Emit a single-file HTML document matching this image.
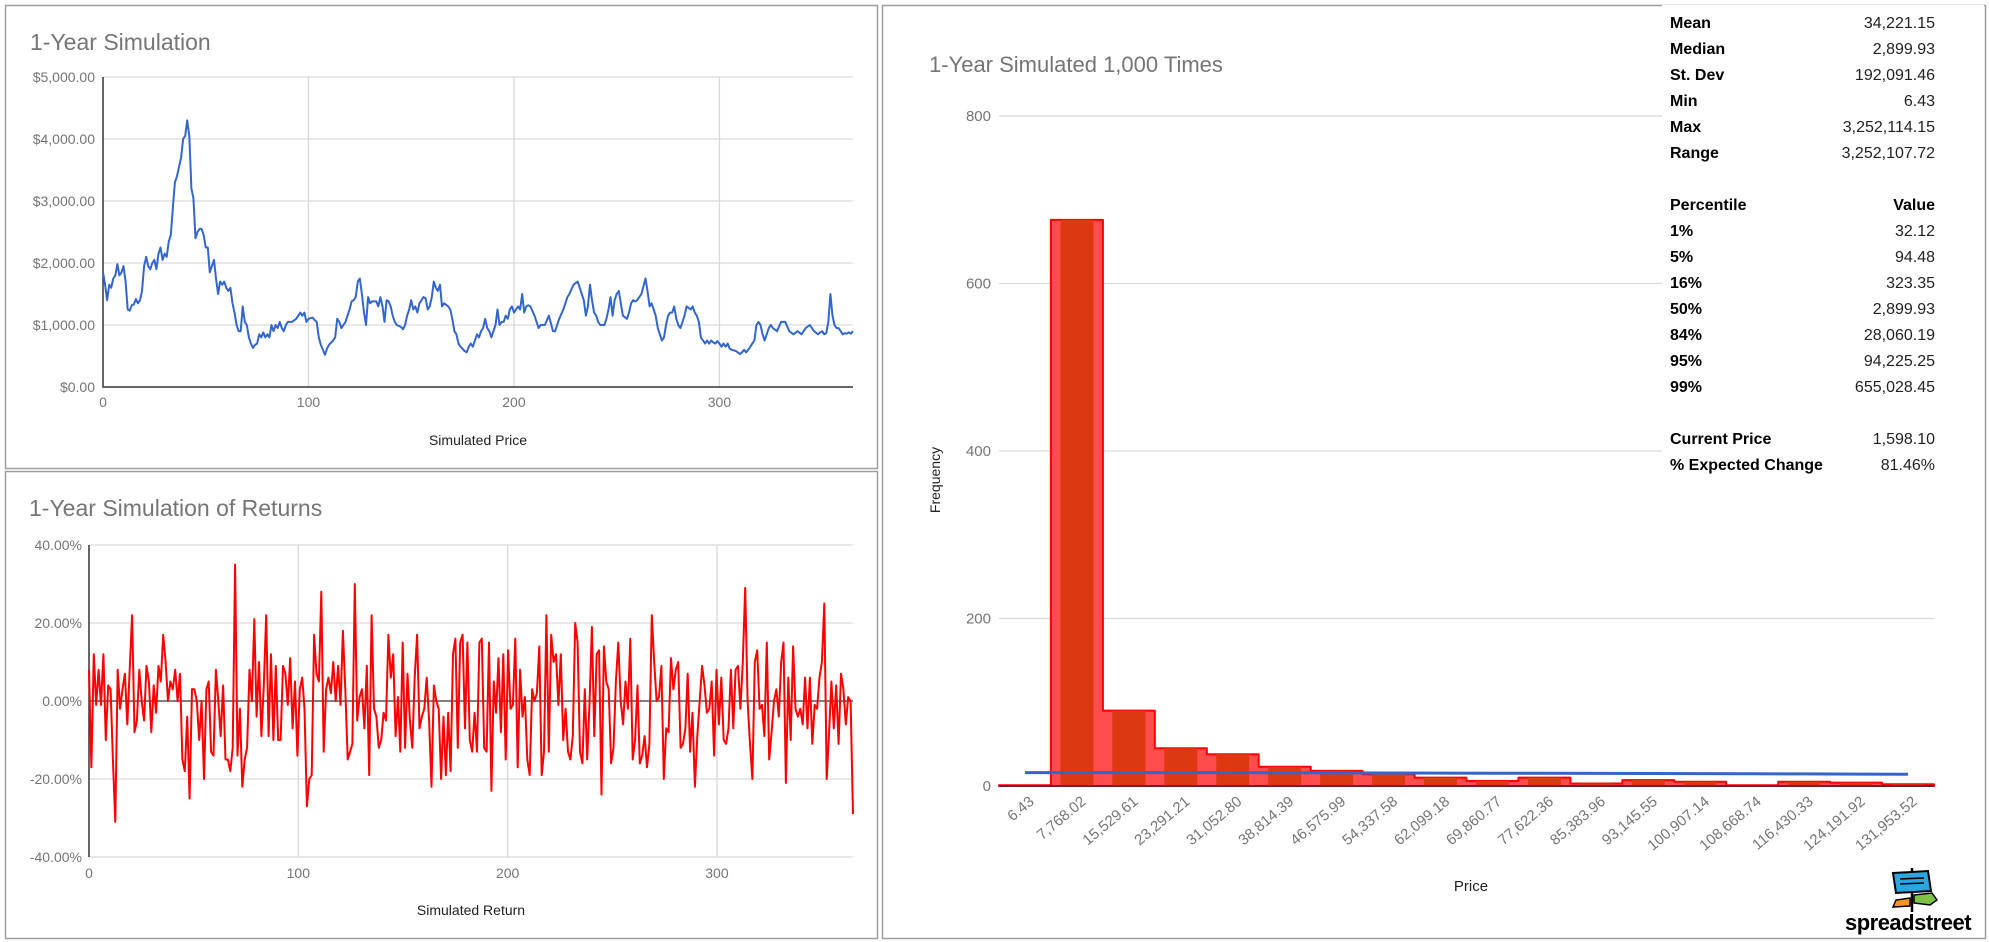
<!DOCTYPE html>
<html><head><meta charset="utf-8"><style>
html,body{margin:0;padding:0;background:#fff;}
body{width:1989px;height:942px;overflow:hidden;position:relative;font-family:"Liberation Sans",sans-serif;}
svg{position:absolute;left:0;top:0;}
#stats{position:absolute;left:1662px;top:5px;width:322px;height:478px;background:#fff;font-size:16px;}
.row{position:absolute;left:8px;width:265px;height:20px;}
.row .l{position:absolute;left:0;font-weight:bold;color:#000;}
.row .v{position:absolute;right:0;color:#222;}
</style></head><body>
<svg id="svg" width="1989" height="942" font-family="Liberation Sans, sans-serif"></svg>
<div id="stats"></div>
<script>
// ---------- data ----------
const priceDays=[0,1,2,3,4,5,6,7,8,9,10,11,12,13,14,15,16,17,18,19,20,21,22,23,24,25,26,27,28,29,30,31,32,33,34,35,36,37,38,39,40,41,42,43,44,45,46,47,48,49,50,51,52,53,54,55,56,57,58,59,60,61,62,63,64,65,66,67,68,69,70,71,72,73,74,75,76,77,78,79,80,81,82,83,84,85,86,87,88,89,90,92,94,96,97,98,99,100,102,103,104,105,106,107,108,109,110,112,113,114,115,116,117,118,119,120,121,122,123,124,125,126,127,128,129,130,131,133,134,135,136,137,138,139,140,141,142,143,145,146,147,148,149,150,151,152,153,154,155,156,157,158,159,160,161,162,163,164,165,166,168,169,170,171,172,173,174,176,177,178,179,180,181,182,183,184,185,186,187,188,189,190,191,192,193,194,195,196,197,198,199,200,201,202,203,204,205,206,207,208,210,212,213,215,217,219,220,222,224,226,227,229,231,233,234,235,236,237,238,239,240,241,242,244,245,246,247,248,249,250,251,252,253,255,256,257,258,259,260,261,262,264,265,266,267,268,269,270,271,272,273,274,275,276,277,278,279,280,281,282,283,284,286,287,288,289,290,291,292,293,294,295,296,297,298,299,300,301,302,303,304,305,306,308,310,311,312,313,314,315,316,317,318,319,320,321,322,323,324,325,326,328,330,332,334,336,338,340,342,344,346,348,349,350,351,352,353,354,355,356,357,358,359,360,361,362,363,364,365];
const prices=[1850,1650,1400,1650,1600,1750,1800,1980,1800,1850,1950,1700,1250,1230,1320,1330,1420,1350,1400,1550,1950,2100,1950,1900,2000,2050,1900,2150,2250,2050,2150,2100,2350,2450,2900,3300,3400,3550,3700,4000,4050,4300,4050,3200,3050,2400,2500,2550,2550,2450,2250,2250,1850,1950,2050,1750,1500,1700,1650,1700,1600,1550,1600,1350,1200,1000,900,900,1300,1050,1000,800,700,630,680,700,850,800,880,800,850,800,1000,900,1000,950,1050,950,900,1000,1050,1050,1100,1200,1150,1200,1050,1100,1120,1080,1050,800,680,600,520,620,680,750,800,1100,1050,950,1000,1050,1150,1250,1380,1400,1450,1700,1750,1500,1200,1000,1450,1350,1380,1380,1300,1450,1300,1050,1400,1380,1300,1150,1050,1000,970,930,1000,1150,1250,1400,1250,1300,1200,1350,1400,1450,1430,1250,1300,1450,1700,1600,1550,1650,1300,1350,1300,1250,1100,900,850,700,650,580,560,650,700,650,750,850,800,900,950,1100,950,900,800,900,1000,1250,1000,1050,1050,1150,1100,1250,1300,1200,1250,1300,1250,1500,1200,1300,1320,1300,1150,950,1000,1000,1150,900,900,1100,1250,1450,1500,1650,1700,1500,1400,1150,1300,1650,1400,1200,1150,1050,1000,1000,1100,1250,1450,1150,1400,1500,1550,1350,1150,1100,1200,1350,1400,1380,1400,1450,1500,1750,1550,1300,1350,1250,1150,950,850,750,800,1000,1150,1200,1200,1300,1100,1000,950,1050,1150,1300,1250,1300,1200,1150,1050,800,750,700,750,700,750,720,700,740,700,650,700,650,700,620,600,580,530,560,600,560,600,650,700,750,1000,1050,1000,850,750,850,950,1000,950,900,1050,1050,900,850,900,850,950,1000,900,850,880,900,850,870,1050,1500,1150,1000,950,950,900,850,870,860,880,860,900,870,880,860,850,870,650];
const returns=[8,-17,12,-1,8,-1,12,-10,4,3,-15,-31,8,-2,3,7,-6,8,22,-8,-5,8,0,-5,9,5,-8,4,-3,9,5,17,10,0,5,3,8,0,7,-15,-18,-4,-25,3,3,0,-10,0,-20,3,5,-13,-14,8,0,-9,4,-15,-15,-18,-12,35,-14,-2,-22,-15,-12,8,0,21,-4,10,-9,4,22,-9,12,-10,9,-10,-10,9,7,-1,11,-7,5,-14,3,6,-2,-27,-20,-19,17,7,5,28,-13,3,6,2,10,0,9,-1,18,3,-15,-13,-11,30,-5,1,3,-7,9,-19,22,-2,-4,-12,-10,-3,-5,17,6,12,-9,1,-13,15,-12,7,-5,-12,6,17,-7,-4,-2,6,-5,-22,4,0,-2,-20,-4,-19,-3,-18,12,16,-12,15,17,-7,15,-10,-13,-3,-13,15,16,-12,-13,15,-23,5,-3,11,-8,12,-15,13,-2,-1,16,-17,8,-4,1,-15,-19,3,0,2,14,-19,-13,22,-13,17,10,12,-1,12,-10,-2,-13,-15,-9,20,15,-13,-16,3,-15,0,19,-9,12,13,-24,14,5,3,-16,-12,5,15,0,-6,5,-2,16,-15,-10,4,-16,-14,-9,-17,-11,22,10,0,1,9,-20,-7,-8,11,3,8,10,-12,-11,-7,7,-13,-3,-22,-9,0,9,4,-3,-2,5,-14,8,-6,6,-10,-11,-7,8,-7,8,9,-2,10,29,0,-11,-20,10,13,-2,-1,-9,15,-15,-8,0,3,-4,10,15,-21,6,-10,14,-2,-4,-2,-6,6,-7,6,-11,-1,-2,6,10,25,-20,-8,5,-7,4,-11,7,3,-6,1,0,-29];
const priceTicks=[0,1000,2000,3000,4000,5000];
const priceTickLabels=["$0.00","$1,000.00","$2,000.00","$3,000.00","$4,000.00","$5,000.00"];
const dayTicks=[0,100,200,300];
const retTicks=[-40,-20,0,20,40];
const retTickLabels=["-40.00%","-20.00%","0.00%","20.00%","40.00%"];
const binLabels=["6.43","7,768.02","15,529.61","23,291.21","31,052.80","38,814.39","46,575.99","54,337.58","62,099.18","69,860.77","77,622.36","85,383.96","93,145.55","100,907.14","108,668.74","116,430.33","124,191.92","131,953.52"];
const binCounts=[1,676,90,45,38,23,18,14,10,6,10,3,7,5,1,5,4,2];
const normalFit=[16,16,16,16,16,15.8,15.6,15.5,15.4,15.3,15.2,15,14.9,14.8,14.6,14.4,14.2,14];
const freqTicks=[0,200,400,600,800];
const statLabels=["Mean","Median","St. Dev","Min","Max","Range","Percentile","1%","5%","16%","50%","84%","95%","99%","Current Price","% Expected Change"];
const statValues=["34,221.15","2,899.93","192,091.46","6.43","3,252,114.15","3,252,107.72","Value","32.12","94.48","323.35","2,899.93","28,060.19","94,225.25","655,028.45","1,598.10","81.46%"];
const statRows=[0,1,2,3,4,5,7,8,9,10,11,12,13,14,16,17];

// ---------- helpers ----------
const svg=document.getElementById('svg');
const NS='http://www.w3.org/2000/svg';
function mk(tag,attrs,parent){const e=document.createElementNS(NS,tag);for(const k in attrs)e.setAttribute(k,attrs[k]);(parent||svg).appendChild(e);return e;}
function txt(s,attrs,parent){const e=mk('text',attrs,parent);e.textContent=s;return e;}

// panels
[[5,5,872,463,'price-panel'],[5,471,872,467,'returns-panel'],[882,5,1103,933,'histogram-panel']].forEach(p=>{
  const r=mk('rect',{x:p[0]+0.5,y:p[1]+0.5,width:p[2],height:p[3],fill:'#fff',stroke:'#9e9e9e','stroke-width':1.5});
  
  
});

// ---------- price chart ----------
(function(){
  const L=103,R=853,T=77,B=387;
  const xs=d=>L+d/365*(R-L), ys=v=>B-v/5000*(B-T);
  const g=mk('g',{});
  
  
  const t=txt('1-Year Simulation',{x:30,y:50,'font-size':23,fill:'#757575'},g);
  
  
  priceTicks.forEach((v,i)=>{
    if(v>0){const l=mk('line',{x1:L,x2:R,y1:ys(v),y2:ys(v),stroke:'#d9d9d9','stroke-width':1.3},g);
      
      }
    const tl=txt(priceTickLabels[i],{x:95,y:ys(v)+5,'font-size':14,fill:'#757575','text-anchor':'end'},g);
    
    
  });
  dayTicks.forEach(d=>{
    if(d>0){const l=mk('line',{x1:xs(d),x2:xs(d),y1:T,y2:B,stroke:'#d9d9d9','stroke-width':1.3},g);
      
      }
    const tl=txt(String(d),{x:xs(d),y:407,'font-size':14,fill:'#757575','text-anchor':'middle'},g);
    
    
  });
  const ax=mk('path',{d:`M${L},${T}V${B}H${R}`,stroke:'#333',fill:'none','stroke-width':1.5},g);
  
  
  let d='';prices.forEach((v,i)=>{d+=(i?'L':'M')+xs(priceDays[i]).toFixed(1)+','+ys(v).toFixed(1);});
  const line=mk('path',{d:d,stroke:'#3366cc','stroke-width':2,fill:'none','stroke-linejoin':'round'},g);
  
  
  const at=txt('Simulated Price',{x:478,y:445,'font-size':14,fill:'#222','text-anchor':'middle'},g);
  
  
})();

// ---------- returns chart ----------
(function(){
  const L=89,R=853,T=545,B=857;
  const xs=i=>L+i/(returns.length-1)*(R-L), xd=d=>L+d/365*(R-L), ys=v=>B-(v+40)/80*(B-T);
  const g=mk('g',{});
  
  
  const t=txt('1-Year Simulation of Returns',{x:29,y:516,'font-size':23,fill:'#757575'},g);
  
  
  retTicks.forEach((v,i)=>{
    if(v!==0){const l=mk('line',{x1:L,x2:R,y1:ys(v),y2:ys(v),stroke:'#d9d9d9','stroke-width':1.3},g);
      
      }
    const tl=txt(retTickLabels[i],{x:82,y:ys(v)+5,'font-size':14,fill:'#757575','text-anchor':'end'},g);
    
    
  });
  dayTicks.forEach(d=>{
    if(d>0){const l=mk('line',{x1:xd(d),x2:xd(d),y1:T,y2:B,stroke:'#d9d9d9','stroke-width':1.3},g);
      
      }
    const tl=txt(String(d),{x:xd(d),y:878,'font-size':14,fill:'#757575','text-anchor':'middle'},g);
    
    
  });
  const ax=mk('path',{d:`M${L},${T}V${B}`,stroke:'#333',fill:'none','stroke-width':1.5},g);
  
  
  const z=mk('line',{x1:L,x2:R,y1:ys(0),y2:ys(0),stroke:'#555','stroke-width':1.5},g);
  
  
  let d='';returns.forEach((v,i)=>{d+=(i?'L':'M')+xs(i).toFixed(1)+','+ys(v).toFixed(1);});
  const line=mk('path',{d:d,stroke:'#ff0000','stroke-width':2,fill:'none','stroke-linejoin':'round'},g);
  
  
  const at=txt('Simulated Return',{x:471,y:915,'font-size':14,fill:'#222','text-anchor':'middle'},g);
  
  
})();

// ---------- histogram ----------
(function(){
  const L=999,R=1934,T=116,B=786,W=(R-L)/binCounts.length;
  const ys=v=>B-v/800*(B-T), cx=i=>L+(i+0.5)*W;
  const g=mk('g',{});
  
  
  const t=txt('1-Year Simulated 1,000 Times',{x:929,y:72,'font-size':22,fill:'#757575'},g);
  
  
  freqTicks.forEach(v=>{
    if(v>0){const l=mk('line',{x1:L,x2:R,y1:ys(v),y2:ys(v),stroke:'#d9d9d9','stroke-width':1.3},g);
      
      }
    const tl=txt(String(v),{x:991,y:ys(v)+5,'font-size':15,fill:'#757575','text-anchor':'end'},g);
    
    
  });
  let d=`M${L},${B}`;
  binCounts.forEach((v,i)=>{d+=`L${(L+i*W).toFixed(1)},${ys(v).toFixed(1)}L${(L+(i+1)*W).toFixed(1)},${ys(v).toFixed(1)}`;});
  d+=`L${R},${B}Z`;
  const area=mk('path',{d:d,fill:'#ff4d4d',stroke:'#ff0000','stroke-width':2,'stroke-linejoin':'round'},g);
  
  
  binCounts.forEach((v,i)=>{
    const r=mk('rect',{x:cx(i)-16.5,y:ys(v),width:33,height:B-ys(v),fill:'#dc3912'},g);
    
    
  });
  const base=mk('line',{x1:L,x2:R,y1:B,y2:B,stroke:'#333','stroke-width':1.5},g);
  
  
  let nd='';normalFit.forEach((v,i)=>{nd+=(i?'L':'M')+cx(i).toFixed(1)+','+ys(v).toFixed(1);});
  const nl=mk('path',{d:nd,stroke:'#3366cc','stroke-width':3,fill:'none'},g);
  
  
  binLabels.forEach((s,i)=>{
    const x=cx(i)+10,y=803;
    const tl=txt(s,{x:x,y:y,'font-size':15,fill:'#757575','text-anchor':'end',transform:`rotate(-40 ${x} ${y})`},g);
    
    
  });
  const xt=txt('Price',{x:1471,y:891,'font-size':15,fill:'#222','text-anchor':'middle'},g);
  
  
  const yt=txt('Frequency',{x:940,y:480,'font-size':14,fill:'#222','text-anchor':'middle',transform:'rotate(-90 940 480)'},g);
  
  
})();

// ---------- logo ----------
(function(){
  const g=mk('g',{});
  
  
  mk('line',{x1:1912,y1:868,x2:1912,y2:912,stroke:'#000','stroke-width':2.5},g);
  mk('polygon',{points:'1893,873 1928,871 1931,891 1896,893',fill:'#2aa7e0',stroke:'#000','stroke-width':2},g);
  mk('line',{x1:1900,y1:879,x2:1924,y2:878,stroke:'#000','stroke-width':1.5},g);
  mk('line',{x1:1900,y1:884,x2:1924,y2:883,stroke:'#000','stroke-width':1.5},g);
  mk('polygon',{points:'1914,895 1932,893 1937,900 1930,905 1914,903',fill:'#7dc242',stroke:'#000','stroke-width':1.5},g);
  mk('polygon',{points:'1910,898 1896,900 1893,907 1910,906',fill:'#f7941d',stroke:'#000','stroke-width':1.5},g);
  const lt=txt('spreadstreet',{x:1908,y:930,'font-size':22,'font-weight':'bold',fill:'#000','text-anchor':'middle','letter-spacing':'-0.5'},g);
  
  
})();

// ---------- stats table ----------
(function(){
  const box=document.getElementById('stats');
  statLabels.forEach((s,i)=>{
    const row=document.createElement('div');
    row.className='row';
    row.style.top=(statRows[i]*26+10)+'px';
    
    
    const l=document.createElement('span');l.className='l';l.textContent=s;
    
    
    const v=document.createElement('span');v.className='v';v.textContent=statValues[i];
    
    
    if(s==='Percentile'){v.style.fontWeight='bold';v.style.color='#000';}
    row.appendChild(l);row.appendChild(v);box.appendChild(row);
  });
})();
</script>
</body></html>
